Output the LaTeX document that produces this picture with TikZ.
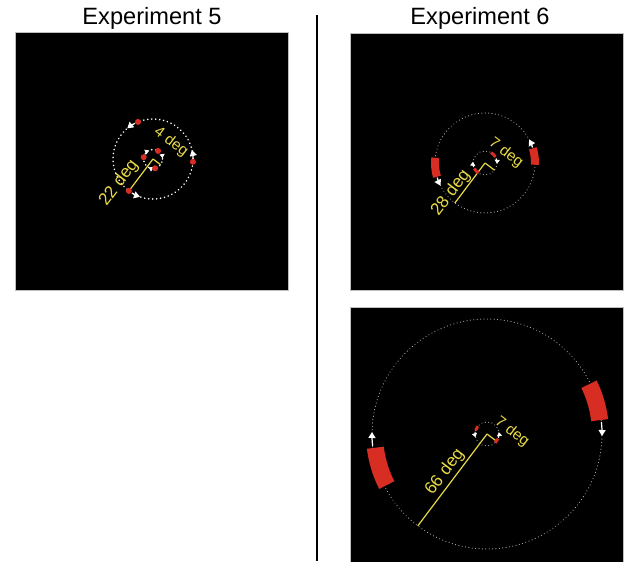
\documentclass[tikz,border=0pt]{standalone}
\usepackage{fontspec}
\setmainfont{Liberation Sans}
\usetikzlibrary{arrows.meta}
\definecolor{dotred}{RGB}{215,45,35}
\definecolor{labelyellow}{RGB}{232,218,70}
\definecolor{trackgrey}{RGB}{175,175,175}

\begin{document}
\begin{tikzpicture}
		[	x=0.5pt,y=0.5pt,
		panel/.style={fill=black,draw=black!25,line width=0.3pt},
		title/.style={font=\fontsize{11.8}{14}\selectfont,anchor=base},
		degbig/.style={text=labelyellow,font=\fontsize{8.6}{10}\selectfont,rotate=53,inner sep=0pt},
		degsmall/.style={text=labelyellow,font=\fontsize{7.6}{9}\selectfont,rotate=-37,inner sep=0pt},
		radiusline/.style={labelyellow,line width=0.6pt},
		wtrack/.style={white,line width=0.8pt,dash pattern=on 0.1pt off 1.9pt,line cap=round},
		gtrack/.style={trackgrey,line width=0.5pt,dash pattern=on 0.1pt off 1.6pt,line cap=round},
		tip/.style={white,line width=0.6pt,-{Triangle[length=3pt,width=3.5pt]}},
		smalltip/.style={white,line width=0.5pt,-{Triangle[length=2pt,width=2.5pt]}},
		dot/.style={circle,fill=dotred,inner sep=0pt,minimum size=3pt},
		redarc/.style={dotred,line width=1.5pt},
		block/.style={fill=dotred}
		]
		\useasboundingbox (0,0) rectangle (624,561);

		% panels and titles
		\draw[panel] (15,271) rectangle (288,529);
		\draw[panel] (350,271) rectangle (623,528);
		\draw[panel] (350,-2) rectangle (623,254);
		\draw[line width=0.75pt] (317,546) -- (317,0);
		\node[title] (t5) at (152,536){Experiment 5};
		\node[title] (t6) at (480,536){Experiment 6};

		% experiment 5
		\coordinate (c5) at (153,402);
		\draw[wtrack] (c5) circle (40);
		\draw[wtrack] (c5) circle (9.5);
		\draw[radiusline] (c5) -- ++(233:40) coordinate (e5);
		\draw[radiusline] (c5) -- ++(-37:9.5) coordinate (s5);
		\draw[tip,shift={(c5)}] (117:40) arc[start angle=117,end angle=130,radius=40];
		\draw[tip,shift={(c5)}] (0:40) arc[start angle=0,end angle=13,radius=40];
		\draw[tip,shift={(c5)}] (238:40) arc[start angle=238,end angle=251,radius=40];
		\draw[smalltip,shift={(c5)}] (30:9.5) arc[start angle=30,end angle=5,radius=9.5];
		\draw[smalltip,shift={(c5)}] (140:9.5) arc[start angle=140,end angle=115,radius=9.5];
		\draw[smalltip,shift={(c5)}] (268:9.5) arc[start angle=268,end angle=243,radius=9.5];
		\node[dot] (d1) at ([shift={(112:40)}]c5){};
		\node[dot] (d2) at ([shift={(-4:40)}]c5){};
		\node[dot] (d3) at (e5){};
		\node[dot] (d4) at ([shift={(58:9.5)}]c5){};
		\node[dot] (d5) at ([shift={(169:9.5)}]c5){};
		\node[dot] (d6) at ([shift={(283:9.5)}]c5){};
		\node[degbig] (l22) at ([shift={(-34,-24)}]c5){22 deg};
		\node[degsmall] (l4) at ([shift={(18,17)}]c5){4 deg};

		% experiment 6, top
		\coordinate (c6) at (485,398);
		\draw[gtrack] (c6) circle (50);
		\draw[gtrack] (c6) circle (12);
		\draw[radiusline] (c6) -- ++(233:50) coordinate (e6);
		\draw[radiusline] (c6) -- ++(-37:12) coordinate (s6);
		\fill[block,shift={(c6)}] (174:46) arc[start angle=174,end angle=196,radius=46]
			-- (196:54) arc[start angle=196,end angle=174,radius=54] -- cycle;
		\fill[block,shift={(c6)}] (-2:46) arc[start angle=-2,end angle=17,radius=46]
			-- (17:54) arc[start angle=17,end angle=-2,radius=54] -- cycle;
		\draw[tip,shift={(c6)}] (197:50) arc[start angle=197,end angle=207,radius=50];
		\draw[tip,shift={(c6)}] (18:50) arc[start angle=18,end angle=28,radius=50];
		\draw[redarc,shift={(c6)}] (30:12) arc[start angle=30,end angle=60,radius=12];
		\draw[redarc,shift={(c6)}] (207:12) arc[start angle=207,end angle=237,radius=12];
		\draw[smalltip,shift={(c6)}] (22:12) arc[start angle=22,end angle=-4,radius=12];
		\draw[smalltip,shift={(c6)}] (200:12) arc[start angle=200,end angle=174,radius=12];
		\node[degbig] (l28) at ([shift={(-34,-30)}]c6){28 deg};
		\node[degsmall] (l7a) at ([shift={(21,10)}]c6){7 deg};

		% experiment 6, bottom
		\coordinate (c7) at (487,127);
		\draw[gtrack] (c7) circle (115);
		\draw[gtrack] (c7) circle (12);
		\draw[radiusline] (c7) -- ++(233:115) coordinate (e7);
		\draw[radiusline] (c7) -- ++(-37:12) coordinate (s7);
		\fill[block,shift={(c7)}] (187:104) arc[start angle=187,end angle=207,radius=104]
			-- (207:121) arc[start angle=207,end angle=187,radius=121] -- cycle;
		\fill[block,shift={(c7)}] (7:105) arc[start angle=7,end angle=26,radius=105]
			-- (26:122) arc[start angle=26,end angle=7,radius=122] -- cycle;
		\draw[tip,shift={(c7)}] (186:115) arc[start angle=186,end angle=179,radius=115];
		\draw[tip,shift={(c7)}] (6:115) arc[start angle=6,end angle=-1,radius=115];
		\draw[redarc,shift={(c7)}] (140:12) arc[start angle=140,end angle=162,radius=12];
		\draw[redarc,shift={(c7)}] (313:12) arc[start angle=313,end angle=337,radius=12];
		\draw[smalltip,shift={(c7)}] (170:12) arc[start angle=170,end angle=196,radius=12];
		\draw[smalltip,shift={(c7)}] (343:12) arc[start angle=343,end angle=369,radius=12];
		\node[degbig] (l66) at ([shift={(-42,-38)}]c7){66 deg};
		\node[degsmall] (l7b) at ([shift={(25,2)}]c7){7 deg};
	\end{tikzpicture}
\end{document}
